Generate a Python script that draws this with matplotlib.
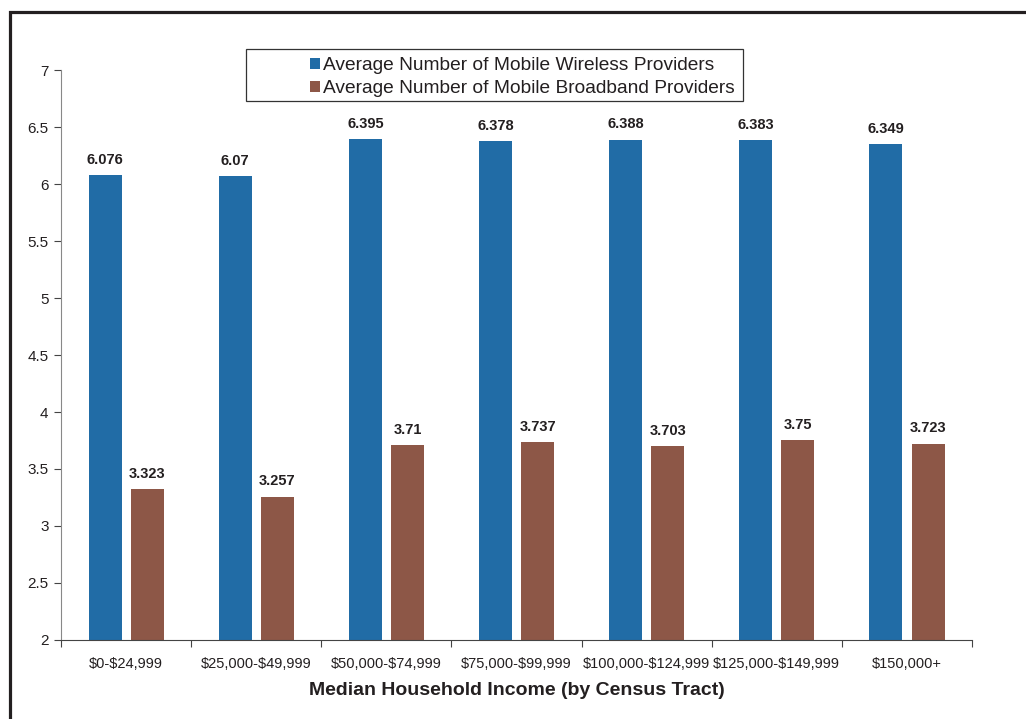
import numpy as np
import matplotlib.pyplot as plt
from matplotlib.patches import Patch, Rectangle

plt.rcParams['font.family'] = ['Liberation Sans', 'DejaVu Sans']
plt.rcParams['text.parse_math'] = False
txt_col = '#231f20'

income_groups = ['$0-$24,999', '$25,000-$49,999', '$50,000-$74,999', '$75,000-$99,999',
                 '$100,000-$124,999', '$125,000-$149,999', '$150,000+']
wireless = [6.076, 6.07, 6.395, 6.378, 6.388, 6.383, 6.349]
broadband = [3.323, 3.257, 3.71, 3.737, 3.703, 3.75, 3.723]
wireless_lbl = ['6.076', '6.07', '6.395', '6.378', '6.388', '6.383', '6.349']
broadband_lbl = ['3.323', '3.257', '3.71', '3.737', '3.703', '3.75', '3.723']
series_names = ['Average Number of Mobile Wireless Providers',
                'Average Number of Mobile Broadband Providers']

blue = '#216ca6'
brown = '#8d5747'

fig = plt.figure(figsize=(10.26, 7.19), dpi=100)
ax = fig.add_axes([0.0595, 0.1099, 0.8879, 0.7927])

x = np.arange(len(income_groups))
w = 0.254
off = 0.162
b = 2.0
ax.bar(x - off, np.array(wireless) - b, w, bottom=b, color=blue)
ax.bar(x + off, np.array(broadband) - b, w, bottom=b, color=brown)

for xi, v, s in zip(x, wireless, wireless_lbl):
    ax.annotate(s, (xi - off, v), xytext=(0, 6), textcoords='offset points',
                ha='center', va='bottom', fontsize=10.5, fontweight='bold', color=txt_col)
for xi, v, s in zip(x, broadband, broadband_lbl):
    ax.annotate(s, (xi + off, v), xytext=(0, 6), textcoords='offset points',
                ha='center', va='bottom', fontsize=10.5, fontweight='bold', color=txt_col)

ax.set_xlim(-0.5, len(income_groups) - 0.5)
ax.set_ylim(2, 7)
ax.set_yticks(np.arange(2, 7.01, 0.5))
ax.set_yticklabels(['2', '2.5', '3', '3.5', '4', '4.5', '5', '5.5', '6', '6.5', '7'])
ax.set_xticks(np.arange(-0.5, len(income_groups)), minor=False)
ax.set_xticklabels([])
ax.set_xticks(x, minor=True)
ax.set_xticklabels(income_groups, minor=True)
ax.tick_params(axis='x', which='minor', length=0, pad=12, labelsize=10.5, labelcolor=txt_col)
ax.tick_params(axis='x', which='major', length=5, direction='out', color='#444444')
ax.tick_params(axis='y', length=5, direction='out', labelsize=11, labelcolor=txt_col,
               color='#444444', pad=4)

for s in ['top', 'right']:
    ax.spines[s].set_visible(False)
ax.spines['left'].set_color('#888888')
ax.spines['bottom'].set_color('#444444')

ax.set_xlabel('Median Household Income (by Census Tract)', fontsize=14,
              fontweight='bold', color=txt_col, labelpad=8)

# legend: box drawn separately
fig.patches.append(Rectangle((246 / 1026, 1 - 101 / 719), 497 / 1026, 52 / 719,
                             transform=fig.transFigure, fill=False,
                             edgecolor='#333333', linewidth=0.9))
handles = [Patch(facecolor=blue), Patch(facecolor=brown)]
fig.legend(handles, series_names, loc='upper left',
           bbox_to_anchor=(297 / 1026, 1 - 44 / 719), frameon=False,
           fontsize=13.8, handlelength=0.5, handleheight=0.5, handletextpad=0.15,
           labelspacing=0.3, borderpad=0.2, labelcolor=txt_col)

# outer frame
fig.patches.append(Rectangle((9.5 / 1026, -0.1), 1.2, 1.1 - 12.5 / 719,
                             transform=fig.transFigure, fill=False,
                             edgecolor='#231f20', linewidth=2.3))

fig.savefig('out.png', dpi=100)
